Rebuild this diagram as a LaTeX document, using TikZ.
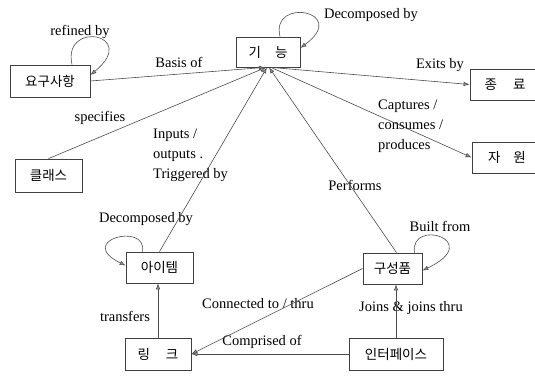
\documentclass[tikz,border=0pt]{standalone}
\usepackage{fontspec}
\setmainfont{Liberation Serif}
\newfontfamily\krfont{Noto Sans CJK KR}
\usepackage{tikz}
\usetikzlibrary{arrows.meta}

\begin{document}
\begin{tikzpicture}[x=1pt,y=-1pt,
        box/.style={draw=black!75,line width=0.8pt,inner sep=0pt,font=\krfont\fontsize{13.5}{16}\selectfont},
        lbl/.style={inner sep=0pt,font=\fontsize{14.5}{20}\selectfont},
        arr/.style={draw=black!70,line width=0.6pt,-{Latex[length=6pt,width=4.5pt,fill=black!40]}}]
        \useasboundingbox (0,0) rectangle (535,375);
        \clip (0,0) rectangle (535,375);

        % entities
        \node[box,minimum width=64pt,minimum height=30pt] (func) at (268,52) {기\hspace{14pt}능};
        \node[box,minimum width=80pt,minimum height=32pt] (req) at (50,81) {요구사항};
        \node[box,minimum width=70pt,minimum height=31pt] (term) at (505,84.5) {종\hspace{16pt}료};
        \node[box,minimum width=70pt,minimum height=31pt] (res) at (507,157.5) {자\hspace{13pt}원};
        \node[box,minimum width=67pt,minimum height=33pt] (cls) at (48.5,175.5) {클래스};
        \node[box,minimum width=67pt,minimum height=31pt] (item) at (159.5,267.5) {아이템};
        \node[box,minimum width=66pt,minimum height=32pt] (link) at (158,354) {링\hspace{16pt}크};
        \node[box,minimum width=59pt,minimum height=31pt] (comp) at (392.5,268.5) {구성품};
        \node[box,minimum width=94pt,minimum height=32pt] (intf) at (396,354) {인터페이스};

        % relation names
        \node[lbl] (refinedlbl) at (80,32) {refined by};
        \node[lbl] (basislbl) at (179,62) {Basis of};
        \node[lbl] (speclbl) at (100,118) {specifies};
        \node[lbl] (decomplbl) at (371,15) {Decomposed by};
        \node[lbl] (exitlbl) at (440,65) {Exits by};
        \node[lbl,align=left,anchor=north west] (capturelbl) at (378,100) {Captures /\\consumes /\\produces};
        \node[lbl,align=left,anchor=north west] (inputlbl) at (153,129) {Inputs /\\outputs .\\Triggered by};
        \node[lbl] (itemdecomplbl) at (146,219) {Decomposed by};
        \node[lbl] (performlbl) at (355,185) {Performs};
        \node[lbl] (builtlbl) at (440,226) {Built from};
        \node[lbl] (transferlbl) at (125,316) {transfers};
        \node[lbl] (connectlbl) at (258,304) {Connected to / thru};
        \node[lbl] (compriselbl) at (262,342) {Comprised of};
        \node[lbl] (joinlbl) at (411,308) {Joins \& joins thru};

        \draw[arr] (req.east) -- ([xshift=-3pt]func.south);
        \draw[arr] (cls.north) -- ([xshift=-2pt]func.south);
        \draw[arr] (item.north) -- ([xshift=-1pt]func.south);
        \draw[arr] ([xshift=4pt]comp.north) -- ([xshift=1pt]func.south);
        \draw[arr] ([xshift=3pt]func.south) -- (term.west);
        \draw[arr] ([xshift=3pt]func.south) -- (res.west);

        \draw[arr] ([xshift=22pt]req.north) .. controls +(-10,-45) and +(50,-41) .. ([yshift=6pt]req.east);
        \draw[arr] ([xshift=12pt]func.north) .. controls +(-10,-40) and +(50,-37) .. ([yshift=4pt]func.east);
        \draw[arr] ([xshift=-17pt]item.north) .. controls +(5,-30) and +(-51,-25) .. ([yshift=2pt]item.west);
        \draw[arr] ([xshift=22pt]comp.north) .. controls +(-5,-35) and +(63,-30) .. ([yshift=-2pt]comp.east);

        \draw[arr] (link.north) -- (link.north |- item.south);
        \draw[arr] (comp.west) -- (link.east);
        \draw[arr] (intf.west) -- (link.east);
        \draw[arr] (intf.north) -- (intf.north |- comp.south);
    \end{tikzpicture}
\end{document}
